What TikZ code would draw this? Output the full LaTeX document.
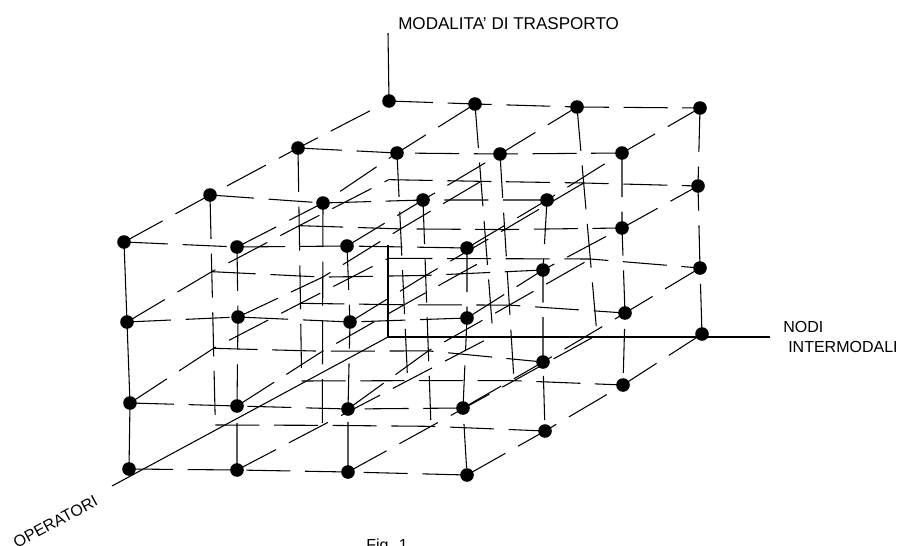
\documentclass[tikz,border=0pt]{standalone}
\usepackage{fontspec}
\setmainfont{Liberation Sans}
\usetikzlibrary{calc}
\begin{document}
\begin{tikzpicture}[x=0.75pt,y=-0.75pt,
  gline/.style={line width=0.8pt,dash pattern=on 33pt off 11pt},
  solidline/.style={line width=0.8pt},
  axline/.style={line width=0.8pt},
  ptdot/.style={circle,fill=black,inner sep=0pt,minimum size=10.2pt},
  lbl/.style={inner sep=0pt,font=\fontsize{12}{14}\selectfont}]
\useasboundingbox (0,0) rectangle (901,546);
\clip (0,0) rectangle (901,546);
\fill[white] (0,0) rectangle (901,546);
\def\vislist{0-0-0/124/242, 1-0-0/237/247, 2-0-0/347/246, 3-0-0/467/248,
 0-0-1/210/195, 1-0-1/323/203, 2-0-1/423/200, 3-0-1/547/200,
 0-0-2/298/148, 1-0-2/397/153, 2-0-2/500/154, 3-0-2/622/153,
 0-0-3/389/101, 1-0-3/475/104, 2-0-3/577/107, 3-0-3/700/108,
 0-1-0/127/322, 1-1-0/238/317, 2-1-0/350/322, 3-1-0/467/318,
 0-2-0/130/403, 1-2-0/237/406, 2-2-0/348/409, 3-2-0/463/408,
 0-3-0/129/469, 1-3-0/237/470, 2-3-0/348/472, 3-3-0/467/475,
 3-1-1/543/270, 3-1-2/622/228, 3-1-3/698/186,
 3-2-1/543/362, 3-2-2/625/313, 3-2-3/700/268,
 3-3-1/545/431, 3-3-2/623/385, 3-3-3/702/334}
\foreach \n/\x/\y in \vislist {\coordinate (p-\n) at (\x,\y);}
\coordinate (b-0) at (388,337);
\coordinate (b-1) at (493,336);
\coordinate (b-2) at (597,335);
\foreach \i in {0,1,2}{
  \foreach \k in {1,2,3}{
    \coordinate (q-\i-\k) at ($(p-\i-3-0)!{\k/3}!(b-\i)$);
    \foreach \j in {1,2,3}{
      \coordinate (p-\i-\j-\k) at ($(p-\i-0-\k)!{\j/3}!(q-\i-\k)$);
    }
  }
}
% axes
\coordinate (o) at (388,337);
\coordinate (ax-up) at (388,33);
\coordinate (ax-mid) at (388,245);
\coordinate (ax-right) at (770,337);
\coordinate (ax-left) at (112,486);
% rows (along i)
\foreach \j in {0,1,2,3}{
  \foreach \k in {0,1,2,3}{
    \ifnum\j\k=33\relax\else
      \draw[gline] (p-0-\j-\k) -- (p-1-\j-\k) -- (p-2-\j-\k) -- (p-3-\j-\k);
    \fi
  }
}
% columns (along j)
\foreach \i in {0,1,2,3}{
  \foreach \k in {0,1,2,3}{
    \ifnum\i\k=3\relax\else
      \ifnum\i\k=0\relax
        \draw[solidline] (p-\i-0-\k) -- (p-\i-1-\k) -- (p-\i-2-\k) -- (p-\i-3-\k);
      \else
        \draw[gline] (p-\i-0-\k) -- (p-\i-1-\k) -- (p-\i-2-\k) -- (p-\i-3-\k);
      \fi
    \fi
  }
}
% depth (along k)
\foreach \i in {0,1,2,3}{
  \foreach \j in {0,1,2,3}{
    \ifnum\i\j=3\relax\else
      \draw[gline] (p-\i-\j-0) -- (p-\i-\j-1) -- (p-\i-\j-2) -- (p-\i-\j-3);
    \fi
  }
}
\draw[axline] (ax-up) -- (p-0-0-3);
\draw[axline] (ax-mid) -- (o);
\draw[axline] (o) -- (ax-right);
\draw[axline] (o) -- (ax-left);
% dots
\foreach \n/\x/\y in \vislist {\node[ptdot] (d-\n) at (p-\n) {};}
% labels
\node[lbl,font=\fontsize{12.8}{14}\selectfont,anchor=base west] (t-mod) at (398,30) {MODALITA' DI TRASPORTO};
\node[lbl,anchor=base west] (t-nodi) at (783,332) {NODI};
\node[lbl,anchor=base west] (t-inter) at (788,352) {INTERMODALI};
\node[lbl,anchor=base west,rotate=28.4] (t-op) at (17,549) {OPERATORI};
\node[lbl,anchor=north west] (t-fig) at (366,539) {Fig. 1};
\end{tikzpicture}
\end{document}
